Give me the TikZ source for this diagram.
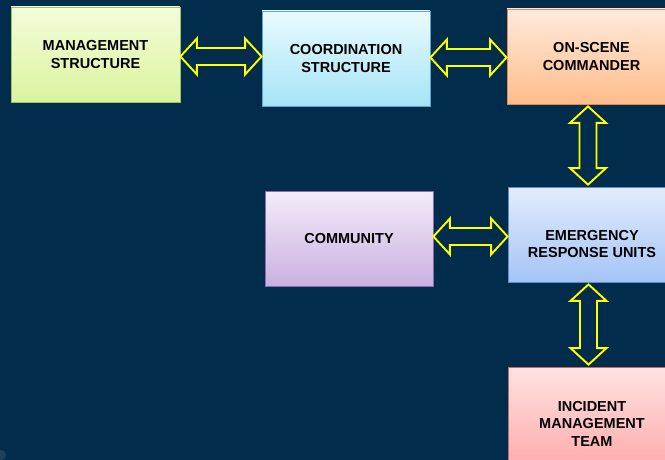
\documentclass[tikz,border=0pt]{standalone}
\usepackage{fontspec}
\setmainfont{Liberation Sans}
\usetikzlibrary{calc}

\definecolor{bgnavy}{RGB}{1,44,76}
\definecolor{arrowyellow}{RGB}{255,255,0}

\tikzset{
  box/.style={draw, line width=0.8pt, minimum height=95pt, inner sep=2pt,
    align=center, font=\bfseries\fontsize{14.5}{17.5}\selectfont, text=black},
  greenbox/.style={box, draw={rgb,255:red,160;green,196;blue,100},
    top color={rgb,255:red,244;green,252;blue,218}, bottom color={rgb,255:red,218;green,244;blue,158}},
  cyanbox/.style={box, draw={rgb,255:red,88;green,168;blue,200},
    top color={rgb,255:red,234;green,250;blue,254}, bottom color={rgb,255:red,164;green,228;blue,246}},
  orangebox/.style={box, draw={rgb,255:red,226;green,136;blue,80},
    top color={rgb,255:red,255;green,234;blue,220}, bottom color={rgb,255:red,255;green,188;blue,138}},
  purplebox/.style={box, draw={rgb,255:red,140;green,110;blue,172},
    top color={rgb,255:red,243;green,236;blue,249}, bottom color={rgb,255:red,202;green,176;blue,224}},
  bluebox/.style={box, draw={rgb,255:red,94;green,140;blue,196},
    top color={rgb,255:red,226;green,236;blue,253}, bottom color={rgb,255:red,164;green,196;blue,246}},
  redbox/.style={box, draw={rgb,255:red,192;green,106;blue,106},
    top color={rgb,255:red,255;green,226;blue,226}, bottom color={rgb,255:red,255;green,164;blue,164}},
  dblarrow/.style={draw=arrowyellow, line width=1.9pt, line join=miter},
  boxtext/.style={align=center, font=\bfseries\fontsize{14.5}{17.5}\selectfont, text=black}
}

% hollow double-headed block arrow from the east side of #1 to the west side of #2
\newcommand\hdbl[2]{%
  \draw[dblarrow] let \p1=(#1.east), \p2=(#2.west), \p3=($(#1.east)!.5!(#2.west)$) in
    (\x1,\y3) -- ++(16.5pt,18pt) -- ++(0,-9.5pt) -- (\x2-16.5pt,\y3+8.5pt)
    -- ++(0,9.5pt) -- (\x2,\y3) -- ++(-16.5pt,-18pt) -- ++(0,9.5pt)
    -- (\x1+16.5pt,\y3-8.5pt) -- ++(0,-9.5pt) -- cycle;}

% hollow double-headed block arrow from the south side of #1 to the north side of #2
\newcommand\vdbl[2]{%
  \draw[dblarrow] let \p1=(#1.south), \p2=(#2.north) in
    (\x1-3.5pt,\y1-2pt) -- ++(18pt,-16.5pt) -- ++(-9.5pt,0) -- (\x1+5pt,\y2+18.5pt)
    -- ++(9.5pt,0) -- (\x1-3.5pt,\y2+2pt) -- ++(-18pt,16.5pt) -- ++(9.5pt,0)
    -- (\x1-12pt,\y1-18.5pt) -- ++(-9.5pt,0) -- cycle;}

\begin{document}
\begin{tikzpicture}[x=1pt,y=-1pt]
  \useasboundingbox (0,0) rectangle (665,460);
  \clip (0,0) rectangle (665,460);
  \fill[bgnavy] (0,0) rectangle (665,460);
  \fill[gray!60!bgnavy, opacity=0.4] (1,455) circle (5);

  \node[greenbox, minimum width=169pt] (ms) at (95.5,54.5) {MANAGEMENT\\STRUCTURE};
  \node[cyanbox, minimum width=168pt] (cs) at (346,58.5) {COORDINATION\\STRUCTURE};
  \node[orangebox, minimum width=169pt] (osc) at (591.5,56.5) {ON-SCENE\\COMMANDER};
  \node[purplebox, minimum width=168pt] (com) at (349,238.5) {COMMUNITY};
  \node[bluebox, minimum width=168pt,
        label={[boxtext, yshift=-9.5pt]center:EMERGENCY\\RESPONSE UNITS}] (eru) at (592,234.5) {};
  \node[redbox, minimum width=168pt, minimum height=113pt] (imt) at (592,423.5)
        {INCIDENT\\MANAGEMENT\\TEAM};

  \hdbl{ms}{cs}
  \hdbl{cs}{osc}
  \hdbl{com}{eru}
  \vdbl{osc}{eru}
  \vdbl{eru}{imt}
\end{tikzpicture}
\end{document}
